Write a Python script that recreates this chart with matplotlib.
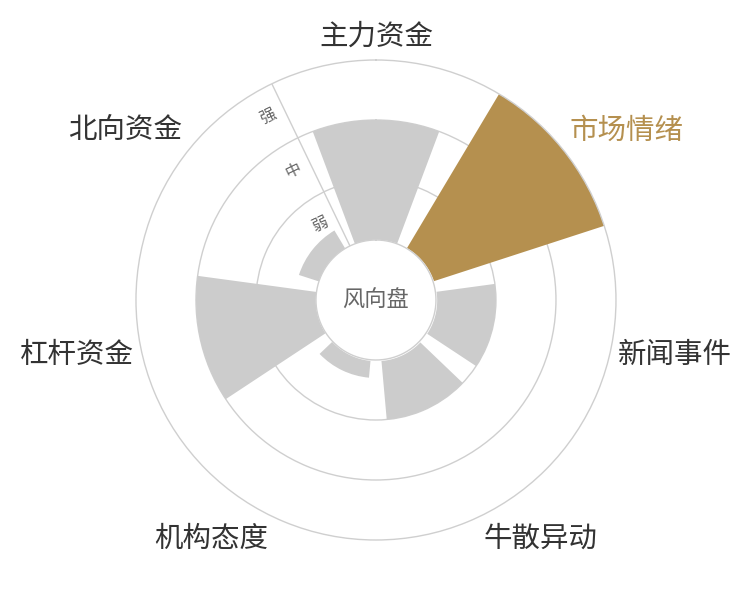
import matplotlib
matplotlib.use('Agg')
import matplotlib.pyplot as plt
import numpy as np

plt.rcParams['font.family'] = ['Noto Sans CJK SC', 'DejaVu Sans']

## 데이터
categories = ['主力资金', '市场情绪', '新闻事件', '牛散异动', '机构态度', '杠杆资金', '北向资金']
values = [2, 3, 1, 1, 0.3, 2, 0.35]
highlight = '市场情绪'
levels = ['弱', '中', '强']
center_label = '风向盘'

gray = '#cccccc'
gold = '#b5904f'
line_c = '#cfcfcf'

n = len(categories)
step = 2 * np.pi / n
theta = np.arange(n) * step
hole = 1.0
rmax = hole + len(levels)

fig = plt.figure(figsize=(7.5, 6), dpi=100)
ax = fig.add_axes([0.1813, 0.1, 0.64, 0.8], projection='polar')
ax.set_theta_zero_location('N')
ax.set_theta_direction(-1)
ax.set_ylim(0, rmax)
ax.set_axisbelow(True)

colors = [gold if c == highlight else gray for c in categories]
ax.bar(theta, values, width=step * 0.8, bottom=hole, color=colors, linewidth=0, zorder=2)

## 격자
ax.set_yticks(np.arange(hole + 1, rmax))
ax.set_yticklabels([])
ax.set_xticks([])
ax.grid(axis='y', color=line_c, linewidth=1)
ax.grid(axis='x', visible=False)
ax.spines['polar'].set_color(line_c)
ax.spines['polar'].set_linewidth(1)

# 가운데 원
t = np.linspace(0, 2 * np.pi, 400)
ax.fill_between(t, 0, hole, color='white', zorder=3)
ax.plot(t, np.full_like(t, hole), color=line_c, lw=1, zorder=4)
ax.text(0, 0, center_label, ha='center', va='center', fontsize=16, color='#666666', zorder=5)

# 반경축
a_axis = -step / 2
ax.plot([a_axis, a_axis], [hole, rmax], color=line_c, lw=1, zorder=1)
rot = np.degrees(step / 2)
for i, lv in enumerate(levels):
    ax.annotate(lv, xy=(a_axis, hole + i + 0.5), xytext=(-12.5, -4), textcoords='offset points',
                ha='center', va='center', rotation=rot, rotation_mode='anchor',
                fontsize=11.5, color='#666666')

# 카테고리 라벨
r_lab = rmax + 8 / 60
for th, c in zip(theta, categories):
    s, co = np.sin(th), np.cos(th)
    ha = 'center' if abs(s) < 0.3 else ('left' if s > 0 else 'right')
    va = 'center' if abs(co) < 0.3 else ('bottom' if co > 0 else 'top')
    ax.text(th, r_lab, c, ha=ha, va=va, fontsize=20.5,
            color=gold if c == highlight else '#333333')

plt.savefig('out.png', dpi=100)
